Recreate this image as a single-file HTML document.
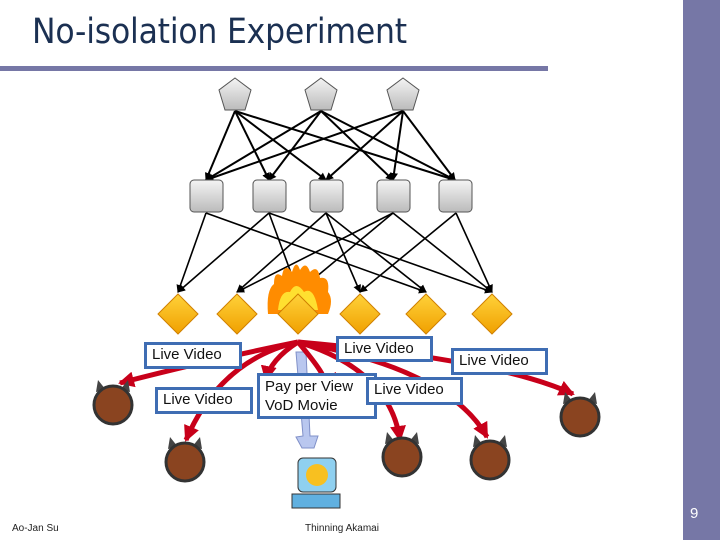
<!DOCTYPE html>
<html><head><meta charset="utf-8"><style>
body{margin:0;width:720px;height:540px;background:#fff;position:relative;overflow:hidden;font-family:"Liberation Sans",sans-serif}
.t{position:absolute;left:32px;top:12px;font-size:35px;color:#1b3052;font-family:"DejaVu Sans Condensed","Liberation Sans",sans-serif;letter-spacing:-0.2px}
.lb{position:absolute;border:3px solid #3f6db3;background:#fff;font-size:15px;color:#111;padding:0 5px;line-height:20px;box-sizing:border-box}
</style></head><body>
<div style="position:absolute;left:683px;top:0;width:37px;height:540px;background:#7677a6"></div>
<div style="position:absolute;left:0;top:66px;width:548px;height:5px;background:#7677a6"></div>
<div class="t">No-isolation Experiment</div>
<svg width="720" height="540" style="position:absolute;left:0;top:0">
<defs>
<marker id="a" markerWidth="8" markerHeight="8" refX="7" refY="4" orient="auto" markerUnits="userSpaceOnUse"><path d="M0,0L8,4L0,8z" fill="#000"/></marker>
<marker id="r" markerWidth="16" markerHeight="16" refX="14" refY="8" orient="auto" markerUnits="userSpaceOnUse"><path d="M0,0L16,8L0,16z" fill="#c8001a"/></marker>
<linearGradient id="g" x1="0" y1="0" x2="0" y2="1"><stop offset="0" stop-color="#f4f4f4"/><stop offset="1" stop-color="#bbb"/></linearGradient>
<linearGradient id="y" x1="0" y1="0" x2="0" y2="1"><stop offset="0" stop-color="#ffd23a"/><stop offset="1" stop-color="#f0a000"/></linearGradient>
</defs>
<g stroke="#000" stroke-width="2" marker-end="url(#a)">
<line x1="235" y1="111" x2="206" y2="180"/><line x1="235" y1="111" x2="269" y2="180"/><line x1="235" y1="111" x2="326" y2="180"/><line x1="235" y1="111" x2="455" y2="180"/>
<line x1="321" y1="111" x2="206" y2="180"/><line x1="321" y1="111" x2="269" y2="180"/><line x1="321" y1="111" x2="393" y2="180"/><line x1="321" y1="111" x2="455" y2="180"/>
<line x1="403" y1="111" x2="206" y2="180"/><line x1="403" y1="111" x2="326" y2="180"/><line x1="403" y1="111" x2="393" y2="180"/><line x1="403" y1="111" x2="455" y2="180"/>
</g>
<g stroke="#000" stroke-width="1.6" marker-end="url(#a)">
<line x1="206" y1="213" x2="178" y2="292"/><line x1="206" y1="213" x2="426" y2="292"/>
<line x1="269" y1="213" x2="178" y2="292"/><line x1="269" y1="213" x2="298" y2="292"/><line x1="269" y1="213" x2="492" y2="292"/>
<line x1="326" y1="213" x2="237" y2="292"/><line x1="326" y1="213" x2="360" y2="292"/><line x1="326" y1="213" x2="426" y2="292"/>
<line x1="393" y1="213" x2="237" y2="292"/><line x1="393" y1="213" x2="298" y2="292"/><line x1="393" y1="213" x2="492" y2="292"/>
<line x1="456" y1="213" x2="360" y2="292"/><line x1="456" y1="213" x2="492" y2="292"/>
</g>
<g fill="url(#g)" stroke="#555" stroke-width="1">
<polygon points="235,78 251,90 245,110 225,110 219,90"/><polygon points="321,78 337,90 331,110 311,110 305,90"/><polygon points="403,78 419,90 413,110 393,110 387,90"/>
<rect x="190" y="180" width="33" height="32" rx="4"/><rect x="253" y="180" width="33" height="32" rx="4"/><rect x="310" y="180" width="33" height="32" rx="4"/><rect x="377" y="180" width="33" height="32" rx="4"/><rect x="439" y="180" width="33" height="32" rx="4"/>
</g>
<path d="M268,314 Q266,290 274,284 Q274,270 282,276 Q284,262 292,272 Q296,258 300,270 Q306,260 310,272 Q318,264 320,278 Q330,276 328,292 Q334,300 328,314 Z" fill="#ff8c00"/>
<path d="M278,310 Q280,290 290,292 Q296,280 304,292 Q314,286 318,310 Z" fill="#ffe030"/>
<g fill="url(#y)" stroke="#d08000" stroke-width="1">
<polygon points="178,294 198,314 178,334 158,314"/><polygon points="237,294 257,314 237,334 217,314"/><polygon points="298,294 318,314 298,334 278,314"/>
<polygon points="360,294 380,314 360,334 340,314"/><polygon points="426,294 446,314 426,334 406,314"/><polygon points="492,294 512,314 492,334 472,314"/>
</g>
<path d="M296,352 L306,352 L310,436 L318,436 L314,448 L302,448 L296,437 L303,436 Z" fill="#b9c7ef" stroke="#8090c8"/>
<g fill="none" stroke="#c8001a" stroke-width="5" marker-end="url(#r)">
<path d="M298,342 Q200,362 120,383"/><path d="M298,342 Q220,360 186,440"/><path d="M298,342 Q330,380 322,380"/>
<path d="M298,342 Q390,370 400,440"/><path d="M298,342 Q450,370 487,437"/><path d="M298,342 Q500,360 573,394"/><path d="M298,342 Q270,360 266,380"/>
</g>
<g fill="#444">
<path d="M96,392 L98,380 L106,390 Z M130,392 L128,380 L120,390 Z"/>
<path d="M168,449 L170,437 L178,447 Z M202,449 L200,437 L192,447 Z"/>
<path d="M385,444 L387,432 L395,442 Z M419,444 L417,432 L409,442 Z"/>
<path d="M473,447 L475,435 L483,445 Z M507,447 L505,435 L497,445 Z"/>
<path d="M563,404 L565,392 L573,402 Z M597,404 L595,392 L587,402 Z"/>
</g>
<g>
<circle cx="113" cy="405" r="19" fill="#8a4420" stroke="#333" stroke-width="3"/><circle cx="185" cy="462" r="19" fill="#8a4420" stroke="#333" stroke-width="3"/>
<circle cx="402" cy="457" r="19" fill="#8a4420" stroke="#333" stroke-width="3"/><circle cx="490" cy="460" r="19" fill="#8a4420" stroke="#333" stroke-width="3"/>
<circle cx="580" cy="417" r="19" fill="#8a4420" stroke="#333" stroke-width="3"/>
</g>
<rect x="298" y="458" width="38" height="34" rx="5" fill="#8fd0f0" stroke="#333"/><circle cx="317" cy="475" r="11" fill="#f8c020"/>
<rect x="292" y="494" width="48" height="14" fill="#60b0e0" stroke="#333"/>
</svg>
<div class="lb" style="left:144px;top:342px;width:98px;height:27px">Live Video</div>
<div class="lb" style="left:336px;top:336px;width:97px;height:26px">Live Video</div>
<div class="lb" style="left:451px;top:348px;width:97px;height:27px">Live Video</div>
<div class="lb" style="left:155px;top:387px;width:98px;height:27px">Live Video</div>
<div class="lb" style="left:257px;top:373px;width:120px;height:46px;line-height:19px;padding-top:1px">Pay per View<br>VoD Movie</div>
<div class="lb" style="left:366px;top:377px;width:97px;height:28px">Live Video</div>
<div style="position:absolute;left:12px;top:523px;font-size:10px;color:#222">Ao-Jan Su</div>
<div style="position:absolute;left:305px;top:523px;font-size:10px;color:#222">Thinning Akamai</div>
<div style="position:absolute;left:690px;top:505px;font-size:15px;color:#fff">9</div>
</body></html>
